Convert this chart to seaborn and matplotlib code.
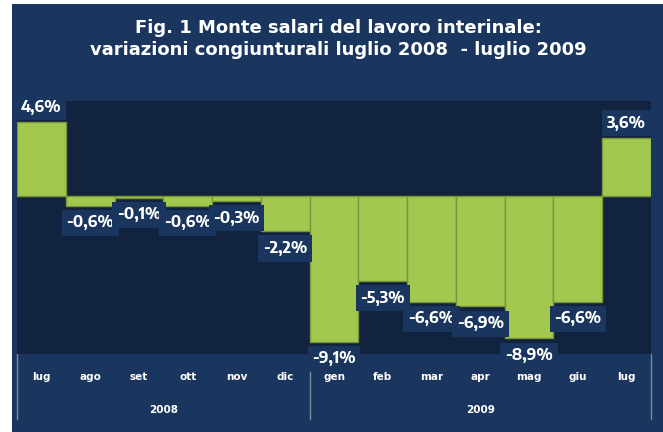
import matplotlib
matplotlib.use("Agg")
import matplotlib.pyplot as plt
import matplotlib.transforms as mtransforms
from matplotlib.patches import Rectangle
import seaborn as sns
import pandas as pd

# ---- data ----
months = ["lug", "ago", "set", "ott", "nov", "dic", "gen", "feb", "mar", "apr", "mag", "giu", "lug"]
years = ["2008", "2009"]
year_counts = [6, 7]
values = [4.6, -0.6, -0.1, -0.6, -0.3, -2.2, -9.1, -5.3, -6.6, -6.9, -8.9, -6.6, 3.6]
labels = ["4,6%", "-0,6%", "-0,1%", "-0,6%", "-0,3%", "-2,2%", "-9,1%", "-5,3%", "-6,6%", "-6,9%", "-8,9%", "-6,6%", "3,6%"]
title = "Fig. 1 Monte salari del lavoro interinale:\nvariazioni congiunturali luglio 2008  - luglio 2009"

# ---- style ----
sns.set_theme(style="white")
plt.rcParams["font.family"] = ["DejaVu Sans"]
LABEL_FAMILY = ["Encode Sans Semi Condensed", "DejaVu Sans"]
PANEL = "#1b365e"
PLOT = "#11233f"
BAR = "#a3c84f"
EDGE = "#7a9636"

W, H = 663, 432
fig = plt.figure(figsize=(W / 100, H / 100), dpi=100, facecolor="white")
fig.patches.append(Rectangle((12 / W, 0), 1 - 12 / W, 1 - 4 / H, transform=fig.transFigure,
                             facecolor=PANEL, edgecolor="none", zorder=-10))

left, right, top, bottom = 17, 651, 101, 354
ax = fig.add_axes([left / W, 1 - bottom / H, (right - left) / W, (bottom - top) / H])
ax.set_zorder(5)
ax.set_facecolor(PLOT)

keys = [f"{m}_{i}" for i, m in enumerate(months)]
df = pd.DataFrame({"key": keys, "value": values})
sns.barplot(data=df, x="key", y="value", order=keys, color=BAR, saturation=1,
            width=1.0, edgecolor=EDGE, linewidth=1.0, ax=ax)

ax.set_xlim(-0.5, len(months) - 0.5)
ax.set_ylim(-158 / 16, 95 / 16)
for s in ax.spines.values():
    s.set_visible(False)
ax.set_xlabel("")
ax.set_ylabel("")
ax.set_yticks([])
ax.set_xticks(range(len(months)))
ax.set_xticklabels(months, color="white", fontsize=7.5, fontweight="bold")
ax.tick_params(axis="x", length=0, pad=13)
ax.axhline(0, color="#8a96a8", lw=0.8, ls=(0, (1, 2)), zorder=0.5)

# data labels
for i, (v, t) in enumerate(zip(values, labels)):
    off = 11 if v >= 0 else -12.5
    ax.annotate(t, (i, v), xytext=(0, off), textcoords="offset points", ha="center", va="center",
                color="white", fontsize=12, fontweight="bold", family=LABEL_FAMILY,
                annotation_clip=False,
                bbox=dict(boxstyle="square,pad=0.28", fc=PANEL, ec="none"))

# year groups and separators
trans = mtransforms.blended_transform_factory(ax.transData, fig.transFigure)
start = 0
bounds = [-0.5]
for y, n in zip(years, year_counts):
    c = start + (n - 1) / 2
    ax.text(c, 1 - 410 / H, y, transform=trans, ha="center", va="center",
            color="white", fontsize=7.5, fontweight="bold")
    start += n
    bounds.append(start - 0.5)
for b in bounds:
    ax.plot([b, b], [1 - bottom / H, 1 - 419 / H], transform=trans, color="#7d8899",
            lw=1, clip_on=False)

fig.text(338 / W, 1 - 39 / H, title, ha="center", va="center", color="white",
         fontsize=13, fontweight="bold", linespacing=1.25)

fig.savefig("out.png", dpi=100, facecolor="white")
